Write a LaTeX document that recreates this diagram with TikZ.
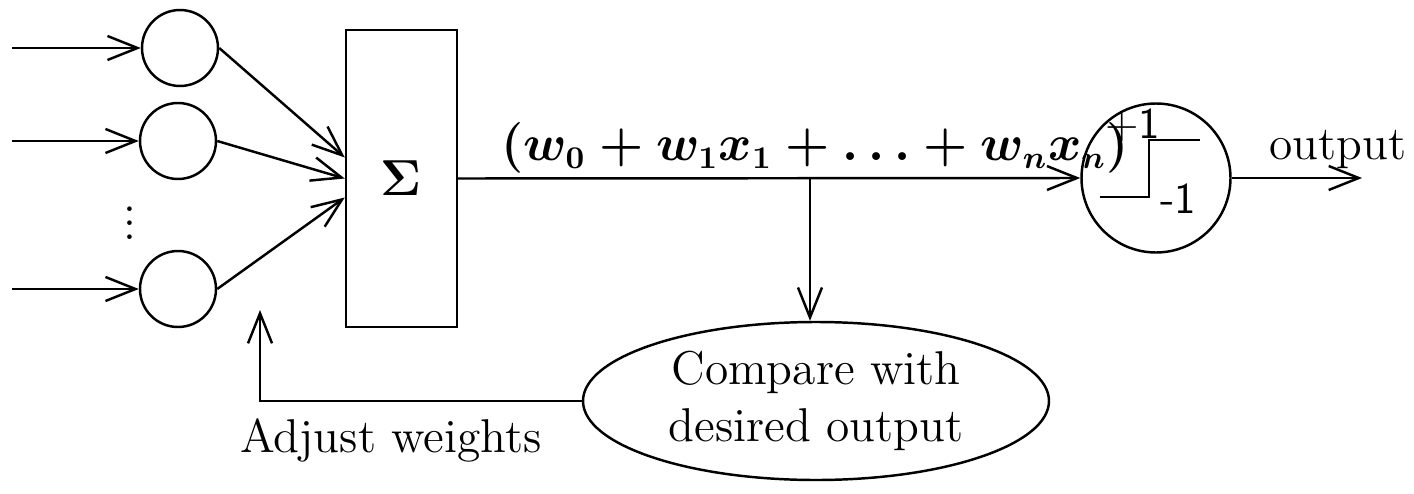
\documentclass[tikz,border=0pt]{standalone}
\usepackage{amsmath, amssymb}
\usepackage{tikz}
\usetikzlibrary{arrows.meta, shapes.geometric}

\begin{document}
\begin{tikzpicture}[>={Straight Barb[length=3mm,width=2.4mm]}, line width=0.7pt,
  every node/.style={font=\fontsize{13.5}{16}\selectfont},
  neuron/.style={draw, circle, minimum size=7.6mm, inner sep=0pt}]
  \useasboundingbox (0,0) rectangle (14.14,4.93);
  % Eingaben
  \node[neuron] (in1) at (1.80,4.45) {};
  \node[neuron] (in2) at (1.78,3.52) {};
  \node[neuron] (in3) at (1.78,2.04) {};
  \node (dots) at (1.30,2.80) {$\vdots$};
  \coordinate (x1) at (0.12,4.45);
  \coordinate (x2) at (0.12,3.52);
  \coordinate (x3) at (0.12,2.04);
  \draw[->] (x1) -- (in1);
  \draw[->] (x2) -- (in2);
  \draw[->] (x3) -- (in3);
  % Summe
  \node[draw, minimum width=11.1mm, minimum height=29.7mm, inner sep=0pt] (sum)
    at (4.015,3.145) {$\boldsymbol{\Sigma}$};
  \draw[->] (in1.east) -- ([yshift=2.1mm]sum.west);
  \draw[->] (in2.east) -- (sum.west);
  \draw[->] (in3.east) -- ([yshift=-1.9mm]sum.west);
  % Schwellwert
  \node[draw, circle, minimum size=14.9mm, inner sep=0pt] (act) at (11.56,3.15) {};
  \draw[line width=0.8pt] (act.center) ++(-0.56,-0.19) -- ++(0.49,0) -- ++(0,0.57) -- ++(0.51,0);
  \node[font=\sffamily\fontsize{12.5}{14}\selectfont] (plus) at (11.33,3.68) {+1};
  \node[font=\sffamily\fontsize{12.5}{14}\selectfont] (minus) at (11.78,2.94) {-1};
  \draw[->] (sum.east) -- (act.west);
  \node (net) at (8.15,3.45) {$\boldsymbol{(w_0 + w_1x_1 + \ldots + w_nx_n)}$};
  \coordinate (out) at (13.62,3.15);
  \draw[->] (act.east) -- (out);
  \node (outlabel) at (13.38,3.43) {output};
  % Vergleich
  \node[draw, ellipse, minimum width=46.6mm, minimum height=15.8mm, inner sep=0pt,
    align=center] (cmp) at (8.16,0.92) {Compare with\\desired output};
  \coordinate (br) at (8.10,3.15);
  \draw[->] (br) -- (br |- cmp.north);
  \coordinate (fb) at (2.60,1.83);
  \draw[->] (cmp.west) -| (fb);
  \node (adjust) at (3.91,0.53) {Adjust weights};
\end{tikzpicture}
\end{document}
